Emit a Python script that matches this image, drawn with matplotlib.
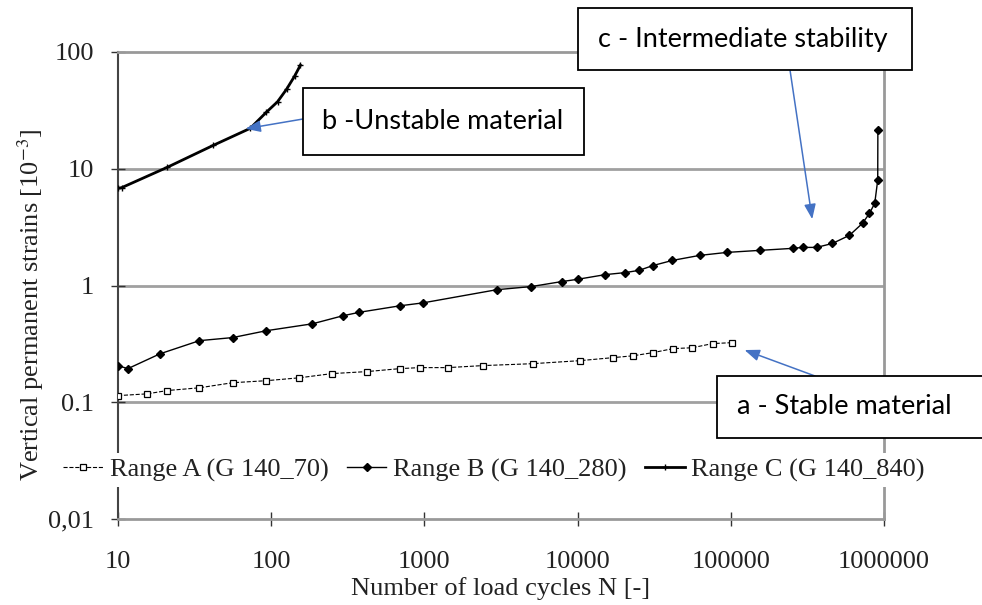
import numpy as np
import matplotlib.pyplot as plt
from matplotlib.patches import Rectangle

# values (load cycles N, strain in 1e-3)
n_a = [10, 15.5, 21, 34, 56, 93, 153, 250, 420, 690, 930, 1420, 2400, 5100,
       10300, 17000, 23000, 31000, 42000, 56000, 76000, 102000]
eps_a = [0.114, 0.118, 0.126, 0.133, 0.147, 0.153, 0.162, 0.176, 0.183, 0.194,
         0.198, 0.198, 0.206, 0.214, 0.227, 0.241, 0.25, 0.266, 0.288, 0.293,
         0.318, 0.324]

n_b = [10, 11.6, 18.8, 34, 56, 93, 186, 293, 377, 692, 980, 2960, 5000, 7870,
       10000, 15200, 20500, 25300, 30900, 41600, 62500, 94000, 155000, 253000,
       295000, 363000, 460000, 595000, 724000, 804000, 870000, 910000, 912000]
eps_b = [0.206, 0.194, 0.26, 0.337, 0.358, 0.41, 0.47, 0.55, 0.59, 0.67, 0.71,
         0.92, 0.98, 1.08, 1.13, 1.24, 1.29, 1.35, 1.48, 1.64, 1.81, 1.92, 2.0,
         2.08, 2.12, 2.12, 2.29, 2.69, 3.41, 4.15, 5.06, 8.0, 21.4]

n_c = [10, 10.6, 21, 42, 73, 93, 110, 126, 142, 155]
eps_c = [6.8, 6.9, 10.3, 15.9, 22.2, 30.5, 37.5, 48, 62, 77]

x_ticks = [10, 100, 1000, 10000, 100000, 1000000]
y_ticks = [0.01, 0.1, 1, 10, 100]
y_tick_labels = ["0,01", "0.1", "1", "10", "100"]

plt.rcParams['font.family'] = ['Liberation Serif', 'DejaVu Serif']
plt.rcParams['mathtext.fontset'] = 'stix'

fig = plt.figure(figsize=(9.82, 6.05), dpi=100)
ax = fig.add_axes([118 / 982, 1 - 519 / 605, 766 / 982, 467 / 605])
ax.set_xscale('log')
ax.set_yscale('log')
ax.set_xlim(10, 1e6)
ax.set_ylim(0.01, 100)

for yv in [0.1, 1, 10]:
    ax.axhline(yv, color='#a0a0a0', lw=2, zorder=1)

ax.plot(n_a, eps_a, ls='--', color='black', lw=0.8, marker='s', ms=4,
        mfc='white', mec='black', mew=0.9, label='Range A (G 140_70)', zorder=3)
ax.plot(n_b, eps_b, ls='-', color='black', lw=1.0, marker='D', ms=4,
        mfc='black', mec='black', label='Range B (G 140_280)', zorder=3)
ax.plot(n_c, eps_c, ls='-', color='black', lw=2.0, marker='+', ms=4,
        mec='black', label='Range C (G 140_840)', zorder=3)

ax.set_xticks(x_ticks)
ax.set_xticklabels([str(v) for v in x_ticks])
ax.set_yticks(y_ticks)
ax.set_yticklabels(y_tick_labels)
ax.minorticks_off()
ax.tick_params(axis='x', direction='inout', length=10, width=1, colors='#333333',
               labelsize=19, labelcolor='#222222', pad=18)
ax.tick_params(axis='y', direction='inout', length=10, width=1, colors='#333333',
               labelsize=19, labelcolor='#222222', pad=12)

for side in ['top', 'right', 'bottom']:
    ax.spines[side].set_color('#999999')
    ax.spines[side].set_linewidth(2)
ax.spines['left'].set_color('#444444')
ax.spines['left'].set_linewidth(1.5)

ax.set_xlabel('Number of load cycles N [-]', fontsize=19, color='#222222', labelpad=3)
ax.set_ylabel('Vertical permanent strains [10$^{-3}$]', fontsize=19, color='#222222')
ax.yaxis.set_label_coords(-0.094, 0.458)

leg = ax.legend(loc='center', bbox_to_anchor=(494 / 982, 1 - 470 / 605),
                bbox_transform=fig.transFigure, ncol=3, fontsize=19,
                frameon=True, facecolor='white', edgecolor='none', framealpha=1,
                handlelength=1.5, handletextpad=0.25, columnspacing=0.7,
                borderpad=0.2, borderaxespad=0)
leg.set_zorder(5)
for t in leg.get_texts():
    t.set_color('#222222')

# annotation boxes (figure pixels, origin top-left of the picture)
H = 605
boxes = [
    ((578, 8, 912, 70), 'c - Intermediate stability', 598, 'left'),
    ((303, 88, 584, 155), 'b -Unstable material', 322, 'left'),
    ((717, 376, 995, 438), 'a - Stable material', 737, 'left'),
]
for (x0, y0, x1, y1), txt, tx, ha in boxes:
    rect = Rectangle((x0 / 982, 1 - y1 / H), (x1 - x0) / 982, (y1 - y0) / H,
                     transform=fig.transFigure, facecolor='white', edgecolor='black',
                     lw=1.3, zorder=10, clip_on=False)
    fig.patches.append(rect)
    fig.text(tx / 982, 1 - (y0 + y1) / 2 / H, txt, ha=ha, va='center',
             fontsize=19.5, family='Lato', color='black', zorder=11)

arrow = dict(arrowstyle='-|>,head_length=0.9,head_width=0.35', color='#4472C4',
             lw=1.1, shrinkA=0, shrinkB=0)
ax.annotate('', xy=(340000, 3.7), xycoords='data',
            xytext=(790 / 982, 1 - 70 / H), textcoords='figure fraction',
            arrowprops=arrow, zorder=9)
ax.annotate('', xy=(68, 22), xycoords='data',
            xytext=(303 / 982, 1 - 119 / H), textcoords='figure fraction',
            arrowprops=arrow, zorder=9)
ax.annotate('', xy=(123000, 0.28), xycoords='data',
            xytext=(815 / 982, 1 - 376 / H), textcoords='figure fraction',
            arrowprops=arrow, zorder=9)

fig.savefig('out.png', dpi=100)
